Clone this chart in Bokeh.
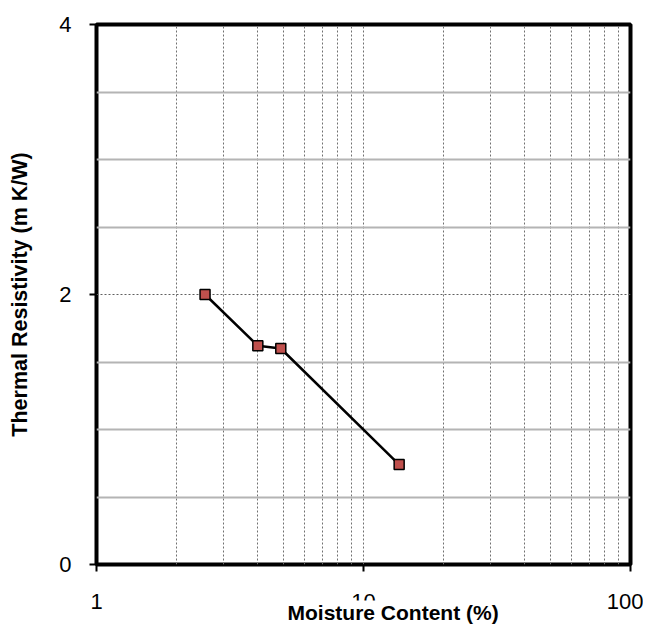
from bokeh.plotting import figure
from bokeh.models import FixedTicker, Grid, Title
from bokeh.embed import file_html
from bokeh.resources import INLINE

# data
moisture = [2.55, 4.02, 4.90, 13.6]
resistivity = [2.0, 1.62, 1.60, 0.74]
x_ticks = [1, 10, 100]
y_ticks = [0, 2, 4]
x_minor_grid = [2, 3, 4, 5, 6, 7, 8, 9, 10, 20, 30, 40, 50, 60, 70, 80, 90]
y_minor_grid = [0.5, 1, 1.5, 2.5, 3, 3.5]
y_major_grid = [2]
x_title = "Moisture Content (%)"
y_title = "Thermal Resistivity (m K/W)"

FONT = "Liberation Sans"

p = figure(width=643, height=628, x_axis_type="log", x_range=(1, 100), y_range=(0, 4),
           output_backend="svg", toolbar_location=None,
           min_border_left=96, min_border_right=13, min_border_top=24, min_border_bottom=64)

p.background_fill_color = "white"
p.border_fill_color = "white"
p.outline_line_color = "black"
p.outline_line_width = 4

for ax in (p.xaxis[0], p.yaxis[0]):
    ax.axis_line_color = None
    ax.major_tick_line_color = "black"
    ax.major_tick_line_width = 2
    ax.major_tick_out = 7
    ax.major_tick_in = 0
    ax.minor_tick_line_color = None
    ax.major_label_text_font = FONT
    ax.major_label_text_font_size = "22px"
    ax.major_label_text_color = "black"

p.xaxis[0].major_label_standoff = 22
p.yaxis[0].major_label_standoff = 18
p.xaxis[0].ticker = FixedTicker(ticks=x_ticks)
p.xaxis[0].major_label_overrides = {t: str(t) for t in x_ticks}
p.yaxis[0].ticker = FixedTicker(ticks=y_ticks)

p.yaxis[0].axis_label = y_title
p.yaxis[0].axis_label_standoff = 24
p.yaxis[0].axis_label_text_font = FONT
p.yaxis[0].axis_label_text_font_style = "bold"
p.yaxis[0].axis_label_text_font_size = "21.5px"
p.yaxis[0].axis_label_text_color = "black"

# grids
p.xgrid[0].ticker = FixedTicker(ticks=x_minor_grid)
p.xgrid[0].grid_line_color = "#707070"
p.xgrid[0].grid_line_dash = "2 2"
p.xgrid[0].grid_line_width = 1

p.ygrid[0].ticker = FixedTicker(ticks=y_minor_grid)
p.ygrid[0].grid_line_color = "#b4b4b4"
p.ygrid[0].grid_line_width = 2

g2 = Grid(dimension=1, ticker=FixedTicker(ticks=y_major_grid), grid_line_color="#606060",
          grid_line_dash="2 2", grid_line_width=1)
p.add_layout(g2)

p.line(moisture, resistivity, line_color="black", line_width=2.5)
p.scatter(moisture, resistivity, marker="square", size=10, fill_color="#C0504D",
          line_color="black", line_width=1.5)

xt = Title(text=x_title, align="left", offset=191, standoff=-22, vertical_align="top",
           text_font=FONT, text_font_style="bold", text_font_size="21px", text_color="black",
           background_fill_color="white")
p.add_layout(xt, "below")

open("out.html", "w").write(file_html(p, INLINE))
